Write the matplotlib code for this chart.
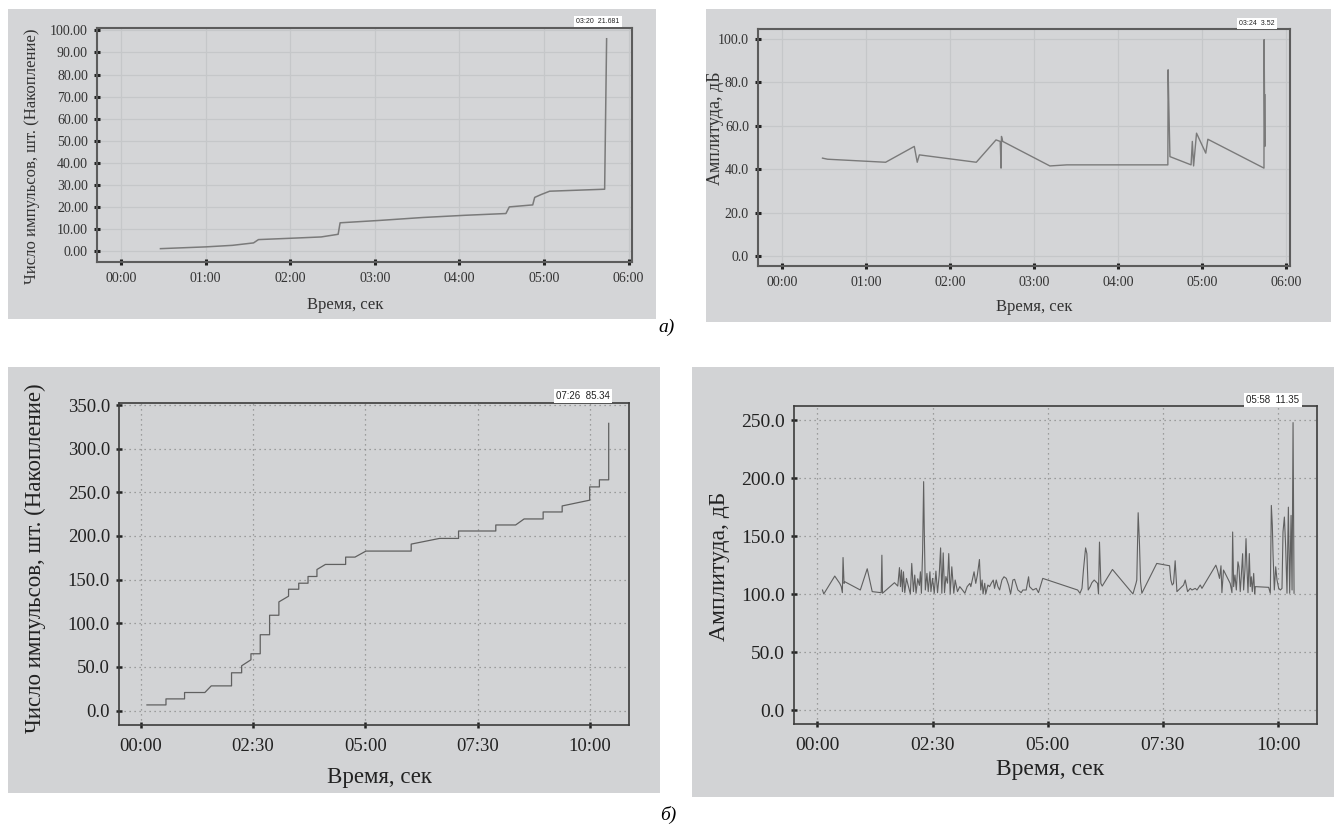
import matplotlib
matplotlib.use("Agg")
import matplotlib.pyplot as plt
from matplotlib.patches import Rectangle
from matplotlib.ticker import FuncFormatter, MultipleLocator

plt.rcParams['font.family'] = ['Liberation Serif', 'DejaVu Serif']

# --- data (time in seconds) ---

# a) cumulative number of pulses
a_cum_t = [28, 60, 79, 94, 97.5, 124, 142, 154, 155.4, 184, 214, 244, 273, 275.4, 292, 293.4, 298, 304, 343, 344.4]
a_cum_v = [1.2, 2.0, 2.7, 3.8, 5.3, 6.0, 6.5, 7.7, 12.9, 14.0, 15.3, 16.3, 17.1, 20.1, 21.0, 24.4, 25.7, 27.2, 28.1, 96.2]

# a) amplitude
a_amp_t = [28.9, 32.5, 74, 94.5, 96.6, 98.1, 138.8, 152.9, 155.9, 156.5, 156.8, 157.7, 191.4, 203.5,
           275.7, 275.9, 276.3, 277.2, 292.3, 293.2, 294.1, 296.2, 302.8, 304.3, 344.4, 344.5, 345, 345.1]
a_amp_v = [45.1, 44.6, 43.2, 50.5, 43.2, 46.6, 43.2, 53.5, 52.8, 40.5, 55.1, 52.8, 41.5, 42.0,
           42.0, 85.8, 72.0, 45.8, 42.0, 52.8, 41.5, 56.6, 47.4, 53.8, 40.5, 99.7, 50.5, 74.3]

# б) cumulative number of pulses
b_cum_t = [8.5, 33.9, 33.9, 58.7, 58.7, 85.8, 94.3, 121.4, 121.4, 134.9, 134.9, 147.3, 147.3, 159.7, 159.7,
           172.2, 172.2, 184.6, 184.6, 197.5, 197.5, 211.1, 211.1, 223.5, 223.5, 235.4, 235.4, 246.7, 273.7,
           273.7, 286.2, 300.8, 361.2, 361.2, 399, 424.4, 424.4, 474.1, 474.1, 500.6, 511.9, 537.3, 537.3,
           562.7, 562.7, 599.4, 599.4, 612.4, 612.4, 624.8, 624.8]
b_cum_v = [6.5, 6.5, 13.4, 13.4, 20.7, 20.7, 28.3, 28.3, 43.3, 43.3, 51.3, 58.2, 65.1, 65.1, 86.9,
           86.9, 109.2, 109.2, 124.5, 131.0, 139.0, 139.0, 145.9, 145.9, 153.6, 153.6, 161.6, 167.4, 167.4,
           175.8, 175.8, 182.7, 182.7, 190.7, 197.2, 197.2, 205.7, 205.7, 212.6, 212.6, 219.5, 219.5, 227.5,
           227.5, 234.4, 241.0, 256.2, 256.2, 264.3, 264.3, 329.0]

# б) amplitude
b_amp_t = [6.5, 8.2, 22.5, 29, 31, 32.4, 33.3, 34.6, 35.4, 55.8, 64.8, 71.3, 83, 83.9, 84.7,
           100.3, 104.6, 106.8, 108.1, 109.4, 110.7, 112, 113.7, 115.9, 118, 121, 122.8, 125, 126.7, 128.4,
           130.6, 132.8, 134.1, 135.4, 137, 138.3, 139.2, 140.5, 142.6, 144.3, 146.5, 147.8, 149.9, 152.1,
           154.3, 156.4, 158.6, 160.4, 162, 163.8, 165.5, 167.3, 169.4, 171, 172.9, 175, 177.6, 179.4,
           182.4, 185.4, 188.9, 192, 195, 198.5, 199.8, 204, 206.2, 208.3, 211, 212.7, 214.5, 215.7,
           217.9, 219.2, 222, 224.2, 226.4, 229, 230.7, 232.9, 235.1, 237.3, 240.3, 243, 246, 249,
           251.6, 254.6, 256.8, 261.1, 265.4, 267.6, 271.9, 275, 276.3, 280.7, 285, 287.9, 293.5, 338.9,
           342, 344.6, 346.5, 349.3, 351, 352.7, 355.3, 357.5, 360.5, 362.7, 364.9, 366.1, 367.4, 369.2,
           371, 384.3, 410.2, 411, 415, 416, 417.8, 419.5, 420.9, 422.6, 442, 458.7, 460.4, 462.2,
           463.9, 466, 468.3, 477, 479.1, 482.2, 485.7, 487.9, 492.2, 494.4, 498.7, 500.9, 519, 521.1,
           523.8, 525.7, 526.9, 529, 537.7, 540, 540.9, 542.2, 543.9, 545.7, 547.8, 549.1, 550.8, 552.1,
           553.9, 555.2, 556.9, 558.3, 559.5, 560.9, 562.6, 563.9, 565.2, 566.5, 568.3, 569.6, 570.4,
           587.8, 590, 591.3, 592.6, 593.5, 595.2, 597, 598.7, 600.9, 603.1, 605.2, 606.5, 608.3, 610,
           611.7, 613.5, 615.2, 617, 618.3, 619.6, 620.9]
b_amp_v = [103.7, 100.3, 115.7, 109.4, 106.6, 101.4, 131.7, 109.4, 110.9, 103.7, 122.0, 102.3, 101.4, 133.7, 100.9,
           110.0, 107.1, 123.0, 106.6, 120.9, 102.3, 119.4, 101.4, 113.7, 108.0, 100.3, 126.6, 102.3, 116.6, 100.9,
           113.4, 107.7, 119.4, 100.9, 138.0, 197.1, 152.3, 103.7, 118.0, 102.3, 119.4, 102.3, 113.7, 100.9,
           120.0, 101.4, 116.6, 140.0, 100.9, 135.7, 101.4, 115.3, 109.6, 135.1, 100.3, 123.7, 100.9, 112.3,
           102.3, 106.6, 103.7, 100.9, 106.6, 109.4, 106.6, 119.4, 109.4, 116.6, 130.0, 103.7, 112.3, 100.3,
           109.5, 100.3, 108.0, 106.6, 109.5, 112.3, 105.1, 112.3, 106.6, 103.7, 112.3, 115.1, 113.7, 107.9,
           100.3, 112.3, 112.9, 103.7, 101.4, 103.7, 103.7, 115.1, 106.6, 103.7, 105.1, 101.4, 113.7, 103.7,
           100.9, 105.1, 120.9, 140.0, 135.0, 103.7, 106.6, 110.0, 112.3, 110.9, 109.4, 100.3, 145.0, 109.4,
           107.1, 121.4, 100.9, 100.3, 109.5, 112.3, 170.3, 143.7, 110.9, 100.9, 126.6, 124.6, 112.3, 108.0,
           109.4, 128.9, 102.3, 108.0, 112.3, 102.3, 105.1, 103.7, 105.1, 103.7, 108.0, 105.1, 125.1, 120.9,
           113.7, 124.6, 101.4, 120.9, 109.4, 101.4, 153.7, 106.6, 116.6, 103.7, 128.0, 123.7, 102.3, 115.1,
           135.0, 103.7, 120.9, 148.0, 123.7, 101.4, 135.1, 106.6, 115.1, 102.3, 118.0, 100.3, 106.6,
           106.0, 100.9, 176.6, 159.4, 135.0, 103.7, 123.7, 112.3, 105.1, 103.7, 105.1, 153.7, 166.6, 140.4,
           100.9, 175.1, 100.9, 168.0, 103.7, 248.0, 100.9]

ylabel_cum = 'Число импульсов, шт. (Накопление)'
ylabel_amp = 'Амплитуда, дБ'
xlabel = 'Время, сек'
stamps = ['03:20  21.681', '03:24  3.52', '07:26  85.34', '05:58  11.35']

W, H = 1337, 835
fig = plt.figure(figsize=(W / 100, H / 100), dpi=100)


def px(x0, y0, x1, y1):
    # pixel box (top-left origin) -> figure fraction rect
    return [x0 / W, 1 - y1 / H, (x1 - x0) / W, (y1 - y0) / H]


def mmss(v, pos):
    v = int(round(v))
    return '%02d:%02d' % (v // 60, v % 60)


# gray panel backgrounds ---
for (x0, y0, x1, y1), c in [((8, 9, 656, 319), '#d4d5d7'), ((706, 9, 1331, 322), '#d4d5d7'),
                            ((8, 367, 660, 793), '#d2d3d5'), ((692, 367, 1334, 797), '#d2d3d5')]:
    r = px(x0, y0, x1, y1)
    fig.patches.append(Rectangle((r[0], r[1]), r[2], r[3], transform=fig.transFigure,
                                 facecolor=c, edgecolor='none', zorder=-10))


def setup(ax, top, step, yfmt, tsize):
    ax.set_zorder(2)
    ax.set_facecolor('#d4d5d7' if top else '#d2d3d5')
    ax.xaxis.set_major_locator(MultipleLocator(step))
    ax.xaxis.set_major_formatter(FuncFormatter(mmss))
    ax.yaxis.set_major_formatter(FuncFormatter(lambda v, p: yfmt % v))
    for s in ax.spines.values():
        s.set_color('#5c5c5c' if top else '#3c3c3c')
        s.set_linewidth(1.5 if top else 1.2)
    if top:
        ax.grid(True, color='#c5c7c9', linewidth=0.9, linestyle='-')
    else:
        ax.grid(True, color='#8a8a8a', linewidth=0.9, linestyle=(0, (1, 3)))
    ax.set_axisbelow(True)
    ax.tick_params(direction='inout', length=5, width=2.2 if top else 1.8, color='#222222',
                   labelsize=tsize, labelcolor='#333333' if top else '#222222')
    ax.tick_params(axis='y', pad=4)
    ax.tick_params(axis='x', pad=4.5 if top else 7)


# а) cumulative ---
ax1 = fig.add_axes(px(97, 28, 632, 262))
ax1.plot(a_cum_t, a_cum_v, color='#7a7a7a', linewidth=1.1)
ax1.set_xlim(-17, 362.4)
ax1.set_ylim(-4.84, 101.06)
ax1.set_yticks([0, 10, 20, 30, 40, 50, 60, 70, 80, 90, 100])
setup(ax1, True, 60, '%.2f', 10)

# а) amplitude ---
ax2 = fig.add_axes(px(758, 29, 1290, 266))
ax2.plot(a_amp_t, a_amp_v, color='#7a7a7a', linewidth=1.0)
ax2.set_xlim(-17.2, 363)
ax2.set_ylim(-4.6, 104.6)
ax2.set_yticks([0, 20, 40, 60, 80, 100])
setup(ax2, True, 60, '%.1f', 10)

# б) cumulative ---
ax3 = fig.add_axes(px(119, 403, 629, 725))
ax3.plot(b_cum_t, b_cum_v, color='#606060', linewidth=0.9)
ax3.set_xlim(-28.8, 651.9)
ax3.set_ylim(-16.5, 352.3)
ax3.set_yticks([0, 50, 100, 150, 200, 250, 300, 350])
setup(ax3, False, 150, '%.1f', 13.5)

# б) amplitude ---
ax4 = fig.add_axes(px(794, 406, 1317, 724))
ax4.plot(b_amp_t, b_amp_v, color='#606060', linewidth=0.8)
ax4.set_xlim(-30.6, 650.8)
ax4.set_ylim(-11.8, 262.3)
ax4.set_yticks([0, 50, 100, 150, 200, 250])
setup(ax4, False, 150, '%.1f', 14)

# axis titles ---
fig.text(32 / W, 1 - 156 / H, ylabel_cum, rotation=90, ha='center', va='center', fontsize=12, color='#333333')
fig.text(345 / W, 1 - 305 / H, xlabel, ha='center', va='center', fontsize=12, color='#333333')
fig.text(716 / W, 1 - 128 / H, ylabel_amp, rotation=90, ha='center', va='center', fontsize=13, color='#333333')
fig.text(1034 / W, 1 - 307 / H, xlabel, ha='center', va='center', fontsize=12, color='#333333')
fig.text(35 / W, 1 - 558 / H, ylabel_cum, rotation=90, ha='center', va='center', fontsize=16.5, color='#222222')
fig.text(380 / W, 1 - 778 / H, xlabel, ha='center', va='center', fontsize=16.5, color='#222222')
fig.text(720 / W, 1 - 566 / H, ylabel_amp, rotation=90, ha='center', va='center', fontsize=17, color='#222222')
fig.text(1050 / W, 1 - 770 / H, xlabel, ha='center', va='center', fontsize=17, color='#222222')

# cursor readout boxes ---
for (x, y, fs), s in zip([(598, 21.5, 5), (1257, 23.5, 5), (583, 396, 7), (1273, 400, 7)], stamps):
    fig.text(x / W, 1 - y / H, s, ha='center', va='center', fontsize=fs, color='#222222',
             family=['Liberation Sans', 'DejaVu Sans'],
             bbox=dict(facecolor='white', edgecolor='none', pad=1.5))

# panel letters ---
fig.text(667 / W, 1 - 327 / H, 'а)', ha='center', va='center', fontsize=14, style='italic')
fig.text(668 / W, 1 - 815 / H, 'б)', ha='center', va='center', fontsize=14, style='italic')

plt.savefig('out.png', dpi=100)
